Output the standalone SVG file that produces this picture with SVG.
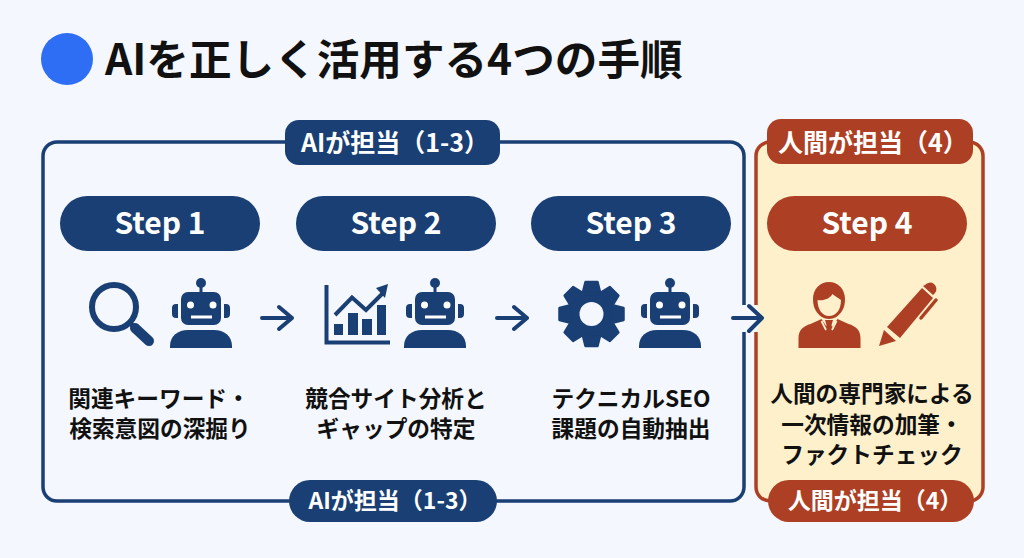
<svg xmlns="http://www.w3.org/2000/svg" width="1024" height="558" viewBox="0 0 1024 558">
<style>
text{font-family:"Noto Sans CJK JP","Noto Sans",sans-serif;font-weight:700;text-anchor:middle}
.body{font-size:22.700px;fill:#111}
.tag{font-size:25px;fill:#fff}
.tagb{font-size:23px;fill:#fff}
.step{font-size:30px;fill:#fff}
.blue{fill:#1a3f74}
.red{fill:#ad3f24}
.arrow{fill:none;stroke:#1a3f74;stroke-width:4;stroke-linecap:round;stroke-linejoin:round}
</style>
<defs>
<g id="robot">
<circle cx="0" cy="-35" r="5" class="blue"/>
<rect x="-1.500" y="-32" width="3" height="8" class="blue"/>
<rect x="-20" y="-26" width="40" height="33" rx="7" class="blue"/>
<path d="M-23-14h-2a4 4 0 0 0-4 4v6a4 4 0 0 0 4 4h2zM23-14h2a4 4 0 0 1 4 4v6a4 4 0 0 1-4 4h-2z" class="blue"/>
<circle cx="-10.500" cy="-13" r="3.500" fill="#fff"/><circle cx="12" cy="-13" r="3.500" fill="#fff"/>
<rect x="-10" y="-2.500" width="21" height="3" fill="#fff"/>
<path d="M-31 30v-2c0-10 8-16 18-16h26c10 0 18 6 18 16v2z" class="blue"/>
</g>
<path id="tooth" d="M-6-32H6L9-20H-9Z" stroke="#1a3f74" stroke-width="2.500" stroke-linejoin="round"/>
</defs>
<rect width="1024" height="558" fill="#f4f7fd"/>
<g id="title">
<circle cx="67" cy="59" r="26" fill="#2d6ef5"/>
<text x="105" y="75" font-size="42.600" fill="#111" style="text-anchor:start">AIを正しく活用する4つの手順</text>
</g>
<g id="human-panel">
<path d="M756 156a14 14 0 0 1 14-14H969a14 14 0 0 1 14 14V487a14 14 0 0 1-14 14H770a14 14 0 0 1-14-14V332L763 318L756 305Z" fill="#fdf0cb"/>
<path d="M756 305V156a14 14 0 0 1 14-14H969a14 14 0 0 1 14 14V487a14 14 0 0 1-14 14H770a14 14 0 0 1-14-14V332" fill="none" stroke="#ad3f24" stroke-width="3.500"/>
</g>
<g id="connectors">
<path d="M744 305V156a14 14 0 0 0-14-14H57a14 14 0 0 0-14 14V487a14 14 0 0 0 14 14H730a14 14 0 0 0 14-14V332" fill="none" stroke="#1a3f74" stroke-width="3.500"/>
<path d="M262 318H292M279 307L292 318L279 329" class="arrow"/>
<path d="M497 318H527M514 307L527 318L514 329" class="arrow"/>
<path d="M733 318H762M749 306L762 318L749 331" class="arrow"/>
</g>
<g id="tag-ai-top"><rect x="285" y="120" width="215" height="45" rx="14" class="blue"/><text x="395" y="152" class="tag">AIが担当（1-3）</text></g>
<g id="tag-ai-bottom"><rect x="289" y="480" width="208" height="42" rx="21" class="blue"/><text x="395" y="509" class="tagb">AIが担当（1-3）</text></g>
<g id="tag-human-top"><rect x="767" y="119" width="206" height="45" rx="14" class="red"/><text x="873" y="152" class="tag">人間が担当（4）</text></g>
<g id="tag-human-bottom"><rect x="768" y="480" width="206" height="42" rx="21" class="red"/><text x="875" y="509" class="tagb">人間が担当（4）</text></g>
<g id="step1">
<rect x="60" y="196" width="200" height="55" rx="27.500" class="blue"/><text x="160" y="234" class="step">Step 1</text>
<circle cx="114" cy="307" r="22" fill="none" stroke="#1a3f74" stroke-width="6"/>
<path d="M131 324L135 328" stroke="#1a3f74" stroke-width="5"/>
<path d="M135 328L149 341" stroke="#1a3f74" stroke-width="10" stroke-linecap="round"/>
<use href="#robot" x="201" y="318"/>
<text x="159" y="407" class="body">関連キーワード・</text><text x="160" y="437" class="body">検索意図の深掘り</text>
</g>
<g id="step2">
<rect x="296" y="196" width="200" height="55" rx="27.500" class="blue"/><text x="396" y="234" class="step">Step 2</text>
<path d="M326.500 285V342.500H390" fill="none" stroke="#1a3f74" stroke-width="4"/>
<path d="M334 324h9v11h-9zM348 313h10v22h-10zM362 319h10v16h-10zM377 305h9v30h-9z" class="blue"/>
<path d="M335 315L352 297.500L366 310L383 293" fill="none" stroke="#1a3f74" stroke-width="4"/>
<path d="M388 284L376 288L385 298Z" class="blue"/>
<use href="#robot" x="435" y="318"/>
<text x="396" y="407" class="body">競合サイト分析と</text><text x="396" y="437" class="body">ギャップの特定</text>
</g>
<g id="step3">
<rect x="531" y="196" width="200" height="55" rx="27.500" class="blue"/><text x="631" y="234" class="step">Step 3</text>
<g transform="translate(591.500 314)" class="blue">
<circle r="24"/>
<use href="#tooth"/>
<use href="#tooth" transform="rotate(45)"/>
<use href="#tooth" transform="rotate(90)"/>
<use href="#tooth" transform="rotate(135)"/>
<use href="#tooth" transform="rotate(180)"/>
<use href="#tooth" transform="rotate(225)"/>
<use href="#tooth" transform="rotate(270)"/>
<use href="#tooth" transform="rotate(315)"/>
<circle r="12" fill="#f4f7fd"/>
</g>
<use href="#robot" x="670" y="318"/>
<text x="631" y="407" class="body">テクニカルSEO</text><text x="631" y="437" class="body">課題の自動抽出</text>
</g>
<g id="step4">
<rect x="767" y="196" width="200" height="55" rx="27.500" class="red"/><text x="867" y="234" class="step">Step 4</text>
<path d="M813 299c0-10 7-17 16-17s16 7 16 17c0 5-1 9-3 12-3 5-8 8-13 8s-10-3-13-8c-2-3-3-7-3-12z" class="red"/>
<path d="M817.500 300c6 1 12-1 15-6 2 2 6 4 8.500 6 0 10-5 16-12 16s-11.500-7-11.500-16z" fill="#fdf0cb"/>
<path d="M798.500 348v-10c0-8 5-12 12-14l11-5 8 12 8-12 11 5c7 2 12 6 12 14v10z" class="red"/>
<path d="M825 320h8l-1.500 5 3 12-5.500 8-5.500-8 3-12z" class="red"/>
<path d="M821.500 321L826 330M836.500 321L832 330" fill="none" stroke="#fdf0cb" stroke-width="1.800"/>
<path d="M879 346L884 330L896 341Z" class="red"/>
<path d="M887 327L922 288L933 298L900 338Z" class="red"/>
<path d="M925 285a6 6 0 0 1 10 8l-2 2-10-9z" class="red"/>
<path d="M936 300L921 318" fill="none" stroke="#ad3f24" stroke-width="3.500" stroke-linecap="round"/>
<text x="872" y="402" class="body">人間の専門家による</text><text x="872" y="433" class="body">一次情報の加筆・</text><text x="872" y="463" class="body">ファクトチェック</text>
</g>
</svg>
